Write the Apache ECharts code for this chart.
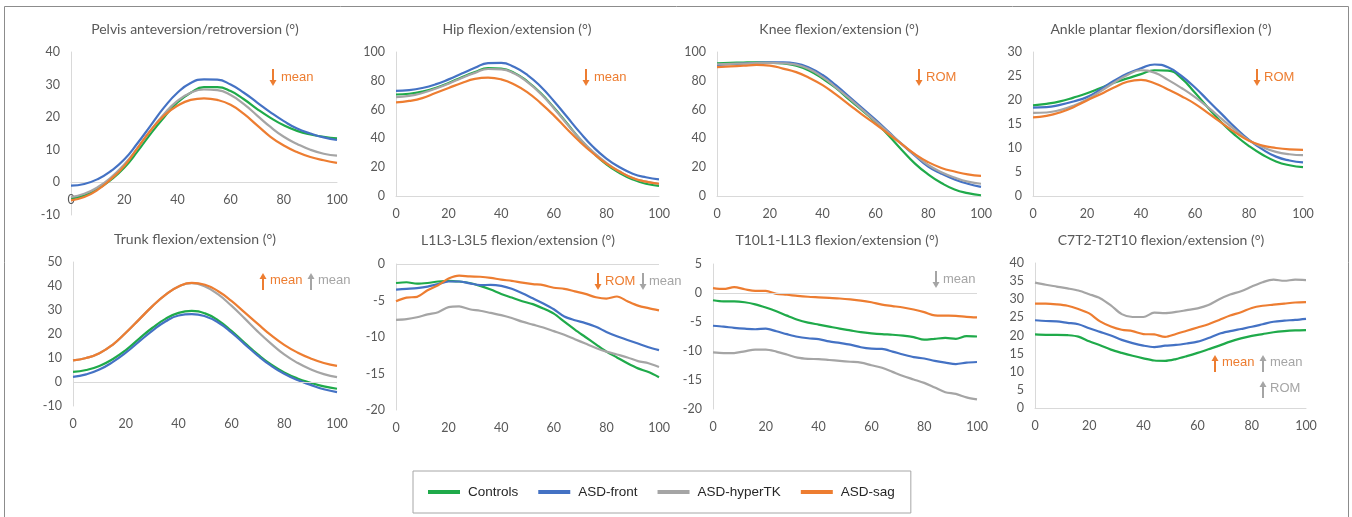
<!DOCTYPE html>
<html>
<head>
<meta charset="utf-8">
<script src="https://cdn.jsdelivr.net/npm/echarts@6/dist/echarts.min.js"></script>
<style>
html,body{margin:0;padding:0;background:#fff;}
#chart{width:1352px;height:517px;}
</style>
</head>
<body>
<div id="chart"></div>
<script>
// ---------- DATA ----------
const seriesNames = ['Controls', 'ASD-front', 'ASD-hyperTK', 'ASD-sag'];
const xTicks = [0, 20, 40, 60, 80, 100];
const X21 = [0,5,10,15,20,25,30,35,40,45,50,55,60,65,70,75,80,85,90,95,100];
const X26 = [0,4,8,12,16,20,24,28,32,36,40,44,48,52,56,60,64,68,72,76,80,84,88,92,96,100];

const titles = [
  'Pelvis anteversion/retroversion (°)', 'Hip flexion/extension (°)',
  'Knee flexion/extension (°)', 'Ankle plantar flexion/dorsiflexion (°)',
  'Trunk flexion/extension (°)', 'L1L3-L3L5 flexion/extension (°)',
  'T10L1-L1L3 flexion/extension (°)', 'C7T2-T2T10 flexion/extension (°)'
];

// Pelvis
const pelvisControls = [-4.9,-4.0,-2.0,0.8,4.5,9.5,15,20,24.5,27.5,29.2,29.2,28,25.5,22.5,19.8,17.5,15.8,14.7,14.0,13.5];
const pelvisFront    = [-1.0,-0.5,1.0,3.5,7.0,12,17.5,23,27.5,30.5,31.6,31.5,30,27.5,24.5,21.5,18.8,16.5,15,13.8,13.0];
const pelvisHyper    = [-4.5,-3.5,-1.5,1.5,5.5,10.5,16,21,25,27.5,28.5,28.3,26.8,24,20.5,17,14,11.8,10,8.8,8.2];
const pelvisSag      = [-5.5,-4.5,-2.3,1,5,10.5,16,20.5,23.5,25.3,25.8,25.3,23.8,21,17.5,14,11.3,9.3,7.8,6.8,6.0];
// Hip
const hipControls = [70.5,71,72.5,75,78.5,82.5,86,88.8,88.5,85.5,79.5,71.5,61.5,50.5,39.5,30,22,16,11.5,8.5,7];
const hipFront    = [73,73.5,75,77.5,81,85,89,92.3,92.5,89.5,84,76,66,55,44,34,26,20,15.5,13,11.6];
const hipHyper    = [68.7,69.5,71.5,74.5,78,82,85.5,88.2,88,85,79,71,61,50,39.5,30.5,23,17,12.5,10,8.5];
const hipSag      = [65,66,68,71.5,75,78.5,81.3,82.2,81,77.5,72,64.5,56,46.5,37.5,29.5,22.5,17,12.5,10,8.5];
// Knee
const kneeControls = [92.2,92.5,92.7,92.8,92.6,92,90.5,87,81.5,75,67,59.5,51.5,42,32,22.5,15,9,4.5,2,0.5];
const kneeFront    = [91,91.5,92,92.5,92.8,92.8,92,89,84,77,69,61,53,44.5,36,28,20.5,15.5,11.5,8.5,6.3];
const kneeHyper    = [91.5,91.8,92,92.3,92.4,92.2,91.2,88,82.5,75.5,68,60,52,44,36,28.5,21.5,16.5,12.8,10,8.5];
const kneeSag      = [89.5,90,90.5,91,90.5,88.5,86,82,77,70.5,63.5,56.5,50,43,36,29,23.5,19.5,17,15,14];
// Ankle
const ankleControls = [18.9,19.2,19.7,20.5,21.4,22.5,23.6,24.5,25.4,26.2,26.1,24.5,21.5,18.3,15.2,12.6,10.4,8.6,7.2,6.4,6.0];
const ankleFront    = [18.4,18.5,19.0,19.7,20.6,22.2,24,25.5,26.6,27.4,26.8,25,22.6,19.8,17,14.2,11.7,9.7,8.2,7.4,7.0];
const ankleHyper    = [17.3,17.4,17.9,18.8,20.1,21.8,23.6,25.2,26.2,25.7,24.2,22.5,20.6,18.4,16.0,13.7,11.6,10.2,9.2,8.7,8.5];
const ankleSag      = [16.4,16.7,17.4,18.5,19.9,21.2,22.6,23.8,24.2,23.5,22.2,20.8,19.2,17.2,15.2,13.2,11.5,10.5,10.0,9.7,9.6];
// Trunk
const trunkControls = [4.2,5,6.7,9.5,13.3,18,22.5,26.3,28.8,29.6,28.6,25.7,21.3,16.3,11.5,7.3,4,1.5,-0.3,-1.8,-2.8];
const trunkFront    = [2.1,3.2,5.2,8.3,12.2,16.8,21.3,25.2,27.7,28.3,27.4,24.8,20.7,15.8,11,6.8,3.4,0.8,-1.2,-3,-4.2];
const trunkHyper    = [9,10,12,15.5,20.5,26,31.5,36.3,39.8,41.2,39.8,36.5,31.8,26.5,21,16,11.5,8,5.3,3.3,2];
const trunkSag      = [9,10,12,15.5,20.5,26,31.5,36.3,39.8,41.3,40.5,37.8,33.8,29,24.2,19.5,15.5,12.3,9.8,7.9,6.7];
// L1L3-L3L5
const lumbarControls = [-2.6,-2.5,-2.7,-2.6,-2.4,-2.3,-2.4,-2.6,-3.0,-3.5,-4.1,-4.6,-5.1,-5.5,-6.1,-6.8,-7.9,-9.0,-10.0,-11.0,-12.0,-12.8,-13.6,-14.3,-14.8,-15.5];
const lumbarFront    = [-3.5,-3.4,-3.3,-3.1,-2.75,-2.4,-2.4,-2.65,-2.9,-2.85,-3.0,-3.4,-4.0,-4.7,-5.4,-6.2,-7.2,-7.7,-8.1,-8.6,-9.3,-9.9,-10.4,-10.9,-11.4,-11.8];
const lumbarHyper    = [-7.65,-7.55,-7.3,-6.9,-6.6,-5.9,-5.8,-6.2,-6.4,-6.7,-7.0,-7.4,-7.9,-8.3,-8.7,-9.2,-9.7,-10.3,-10.9,-11.5,-12.0,-12.4,-12.8,-13.3,-13.6,-14.1];
const lumbarSag      = [-5.1,-4.6,-4.5,-3.6,-2.9,-2.0,-1.6,-1.7,-1.75,-1.9,-2.15,-2.3,-2.55,-2.75,-2.9,-3.25,-3.4,-3.75,-4.1,-4.55,-4.75,-4.45,-5.1,-5.7,-6.05,-6.35];
// T10L1-L1L3
const thoracoControls = [-1.25,-1.45,-1.45,-1.6,-1.95,-2.5,-3.15,-3.9,-4.6,-5.1,-5.45,-5.8,-6.15,-6.45,-6.75,-6.95,-7.1,-7.2,-7.35,-7.6,-8.05,-7.9,-7.75,-7.9,-7.45,-7.5];
const thoracoFront    = [-5.65,-5.8,-6.0,-6.15,-6.25,-6.15,-6.6,-7.1,-7.55,-7.8,-7.95,-8.35,-8.6,-8.9,-9.35,-9.6,-9.65,-10.1,-10.6,-11.05,-11.3,-11.7,-12.0,-12.25,-12.0,-11.9];
const thoracoHyper    = [-10.25,-10.35,-10.35,-10.05,-9.75,-9.75,-10.1,-10.6,-11.15,-11.35,-11.4,-11.55,-11.7,-11.85,-12.0,-12.45,-12.9,-13.6,-14.3,-14.9,-15.5,-16.3,-17.1,-17.4,-18.0,-18.35];
const thoracoSag      = [0.85,0.7,1.0,0.65,0.35,0.35,-0.15,-0.3,-0.5,-0.65,-0.75,-0.85,-0.95,-1.1,-1.3,-1.6,-2.0,-2.25,-2.5,-2.85,-3.3,-3.85,-3.9,-3.95,-4.1,-4.2];
// C7T2-T2T10
const cervicoControls = [20.3,20.2,20.2,20.1,19.7,18.4,17.3,16.1,15.2,14.4,13.7,13.1,13.0,13.5,14.3,15.2,16.2,17.2,18.3,19.2,19.9,20.4,20.9,21.2,21.4,21.5];
const cervicoFront    = [24.2,24.0,23.9,23.5,23.1,22.0,21.0,20.0,18.8,17.9,17.2,16.8,17.2,17.4,17.8,18.3,19.3,20.5,21.2,21.8,22.4,23.1,23.8,24.1,24.3,24.6];
const cervicoHyper    = [34.6,34.0,33.5,33.0,32.4,31.4,30.3,28.3,25.9,25.1,25.1,26.3,26.2,26.5,27.0,27.5,28.4,30.0,31.3,32.2,33.5,34.7,35.4,35.1,35.4,35.3];
const cervicoSag      = [28.8,28.8,28.6,28.2,27.3,26.1,23.9,22.5,21.6,21.2,20.4,20.3,19.6,20.4,21.3,22.2,23.1,24.3,25.5,26.4,27.6,28.2,28.5,28.8,29.1,29.2];

// y-axis ranges [min, max, interval]
const yRanges = [[-10,40,10],[0,100,20],[0,100,20],[0,30,5],[-10,50,10],[-20,0,5],[-20,5,5],[0,40,5]];

// ---------- LAYOUT / STYLE ----------
const colors = ['#1FAA4A', '#4472C4', '#A5A5A5', '#ED7D31'];
const panels = [
  {x: X21, data: [pelvisControls, pelvisFront, pelvisHyper, pelvisSag], smooth: true, grid: {left: 71, top: 52, width: 266, height: 163}, title: [195, 22], zero: 'axis'},
  {x: X21, data: [hipControls, hipFront, hipHyper, hipSag], smooth: true, grid: {left: 396, top: 52, width: 263, height: 144}, title: [517, 22], zero: 'bottom'},
  {x: X21, data: [kneeControls, kneeFront, kneeHyper, kneeSag], smooth: true, grid: {left: 717, top: 52, width: 264, height: 144}, title: [839, 22], zero: 'bottom'},
  {x: X21, data: [ankleControls, ankleFront, ankleHyper, ankleSag], smooth: true, grid: {left: 1033, top: 52, width: 270, height: 144}, title: [1161, 22], zero: 'bottom'},
  {x: X21, data: [trunkControls, trunkFront, trunkHyper, trunkSag], smooth: true, grid: {left: 73, top: 262, width: 264, height: 144}, title: [195, 232], zero: 'mark'},
  {x: X26, data: [lumbarControls, lumbarFront, lumbarHyper, lumbarSag], smooth: 0.3, grid: {left: 396, top: 264, width: 263, height: 146}, title: [518, 233], zero: 'mark'},
  {x: X26, data: [thoracoControls, thoracoFront, thoracoHyper, thoracoSag], smooth: 0.3, grid: {left: 713, top: 264, width: 264, height: 145}, title: [837, 233], zero: 'mark'},
  {x: X26, data: [cervicoControls, cervicoFront, cervicoHyper, cervicoSag], smooth: 0.3, grid: {left: 1035, top: 263, width: 271, height: 145}, title: [1161, 233], zero: 'bottom'}
];

const axisFont = 'Lato, "Noto Sans", sans-serif';
const txtColor = '#595959';
const lineGrey = '#D9D9D9';

const grid = [], xAxis = [], yAxis = [], series = [], title = [];
panels.forEach((p, i) => {
  const r = yRanges[i];
  grid.push(Object.assign({containLabel: false}, p.grid));
  title.push({
    text: titles[i], left: p.title[0], top: p.title[1], textAlign: 'center', padding: 0,
    textStyle: {fontFamily: axisFont, fontSize: 14, fontWeight: 'normal', color: txtColor}
  });
  // for the pelvis panel the x axis (line + labels) sits at y = 0
  const zeroOffset = p.zero === 'axis' ? -p.grid.height * (0 - r[0]) / (r[1] - r[0]) : 0;
  xAxis.push({
    type: 'value', gridIndex: i, min: 0, max: 100, interval: 20,
    offset: zeroOffset,
    axisLine: {show: p.zero !== 'mark', onZero: false, lineStyle: {color: lineGrey}},
    axisTick: {show: false}, splitLine: {show: false},
    axisLabel: {color: txtColor, fontFamily: axisFont, fontSize: 12.5, margin: 11,
      customValues: xTicks}
  });
  yAxis.push({
    type: 'value', gridIndex: i, min: r[0], max: r[1], interval: r[2],
    axisLine: {show: true, lineStyle: {color: lineGrey}},
    axisTick: {show: false}, splitLine: {show: false},
    axisLabel: {color: txtColor, fontFamily: axisFont, fontSize: 12.5, margin: 11}
  });
  p.data.forEach((vals, k) => {
    const s = {
      name: seriesNames[k], type: 'line', xAxisIndex: i, yAxisIndex: i,
      data: vals.map((v, j) => [p.x[j], v]),
      smooth: p.smooth, showSymbol: false, symbol: 'none',
      lineStyle: {width: 2.2, color: colors[k]}, itemStyle: {color: colors[k]},
      animation: false, silent: true
    };
    if (k === 0 && p.zero === 'mark') {
      s.markLine = {
        silent: true, symbol: ['none', 'none'], label: {show: false},
        lineStyle: {color: lineGrey, type: 'solid', width: 1},
        emphasis: {disabled: true}, animation: false,
        data: [{yAxis: 0}]
      };
    }
    series.push(s);
  });
});

// ---------- ANNOTATIONS ----------
const annFont = '13px "Liberation Sans", Arial, sans-serif';
function arrow(x, yTop, yBot, dir, color) {
  const head = 5;
  const shaft = dir === 'down'
    ? {x1: x, y1: yTop, x2: x, y2: yBot - head}
    : {x1: x, y1: yTop + head, x2: x, y2: yBot};
  const pts = dir === 'down'
    ? [[x - 3.5, yBot - head - 1], [x + 3.5, yBot - head - 1], [x, yBot]]
    : [[x - 3.5, yTop + head + 1], [x + 3.5, yTop + head + 1], [x, yTop]];
  return [
    {type: 'line', shape: shaft, style: {stroke: color, lineWidth: 2}, silent: true},
    {type: 'polygon', shape: {points: pts}, style: {fill: color}, silent: true}
  ];
}
function label(x, y, text, color) {
  return {type: 'text', x: x, y: y, silent: true,
    style: {text: text, fill: color, font: annFont, textVerticalAlign: 'middle', textAlign: 'left'}};
}
const OR = '#ED7D31', GR = '#A5A5A5';
let graphic = [];
graphic.push({type: 'rect', shape: {x: 4.5, y: 6.5, width: 1344, height: 530}, style: {fill: 'none', stroke: '#8C8C8C', lineWidth: 1}, silent: true, z: -1});
graphic = graphic.concat(
  arrow(273, 69, 86, 'down', OR), [label(281, 77, 'mean', OR)],
  arrow(586, 69, 86, 'down', OR), [label(594, 77, 'mean', OR)],
  arrow(919, 69, 86, 'down', OR), [label(926, 77, 'ROM', OR)],
  arrow(1257, 69, 86, 'down', OR), [label(1264, 77, 'ROM', OR)],
  arrow(263, 273, 290, 'up', OR), [label(270, 280, 'mean', OR)],
  arrow(311, 273, 290, 'up', GR), [label(318, 280, 'mean', GR)],
  arrow(598, 273, 290, 'down', OR), [label(605, 281, 'ROM', OR)],
  arrow(643, 273, 290, 'down', GR), [label(649, 281, 'mean', GR)],
  arrow(936, 271, 288, 'down', GR), [label(943, 279, 'mean', GR)],
  arrow(1215, 355, 372, 'up', OR), [label(1222, 362, 'mean', OR)],
  arrow(1263, 355, 372, 'up', GR), [label(1270, 362, 'mean', GR)],
  arrow(1263, 381, 398, 'up', GR), [label(1270, 388, 'ROM', GR)]
);

const chart = echarts.init(document.getElementById('chart'), null, {renderer: 'canvas'});
chart.setOption({
  backgroundColor: '#fff',
  animation: false,
  color: colors,
  title: title,
  grid: grid, xAxis: xAxis, yAxis: yAxis, series: series,
  legend: {
    data: seriesNames, left: 413, top: 471,
    icon: 'rect', itemWidth: 32, itemHeight: 4, itemGap: 20,
    padding: [13, 16, 13, 15],
    borderColor: '#A6A6A6', borderWidth: 1,
    selectedMode: false,
    textStyle: {fontFamily: '"Liberation Sans", Arial, sans-serif', fontSize: 13.5, color: '#262626', lineHeight: 16, padding: [0, 0, 0, 3]}
  },
  graphic: graphic
});
</script>
</body>
</html>
